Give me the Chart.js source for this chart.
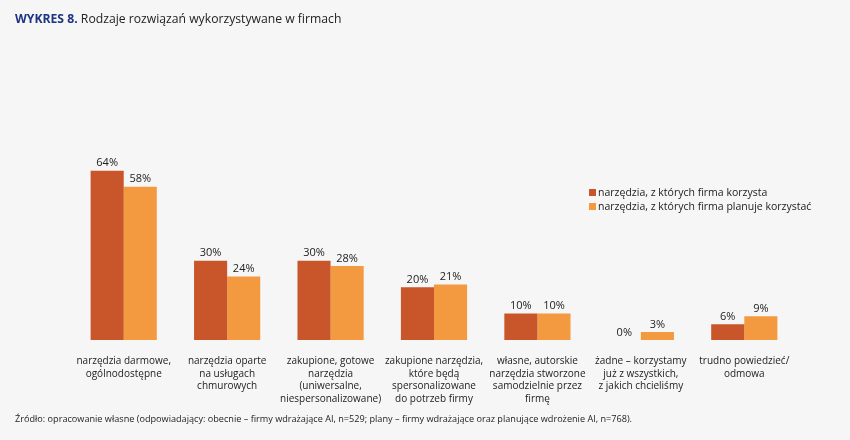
<!DOCTYPE html>
<html lang="pl">
<head>
<meta charset="utf-8">
<script src="https://cdn.jsdelivr.net/npm/chart.js@4.4.1/dist/chart.umd.min.js"></script>
<style>
  body { margin: 0; background: #f6f6f6; font-family: "Open Sans", sans-serif; }
  #wrap { position: relative; width: 850px; height: 440px; }
  #chart-box { position: absolute; left: 0; top: 0; width: 850px; height: 440px; }
  #title { position: absolute; left: 15px; top: 10px; font-size: 12.2px; color: #222; }
  #title b { color: #1d3383; }
  #source { position: absolute; left: 15px; top: 412px; font-size: 9.15px; color: #222; }
  #legend { position: absolute; left: 589px; top: 185px; font-size: 10.5px; color: #222; line-height: 14px; }
  #legend span.sw { display: inline-block; width: 7px; height: 7px; margin-right: 2px; }
</style>
</head>
<body>
<div id="wrap">
  <div id="chart-box"><canvas id="results-chart"></canvas></div>
  <div id="title"><b>WYKRES 8.</b> Rodzaje rozwiązań wykorzystywane w firmach</div>
  <div id="legend"></div>
  <div id="source">Źródło: opracowanie własne (odpowiadający: obecnie – firmy wdrażające AI, n=529; plany – firmy wdrażające oraz planujące wdrożenie AI, n=768).</div>
</div>
<script>
// Categories (multiline labels)
const categories = [
    ['narzędzia darmowe,', 'ogólnodostępne'],
    ['narzędzia oparte', 'na usługach', 'chmurowych'],
    ['zakupione, gotowe', 'narzędzia', '(uniwersalne,', 'niespersonalizowane)'],
    ['zakupione narzędzia,', 'które będą', 'spersonalizowane', 'do potrzeb firmy'],
    ['własne, autorskie', 'narzędzia stworzone', 'samodzielnie przez', 'firmę'],
    ['żadne – korzystamy', 'już z wszystkich,', 'z jakich chcieliśmy'],
    ['trudno powiedzieć/', 'odmowa']
];

// Series values (%)
const seriesNames = ['narzędzia, z których firma korzysta', 'narzędzia, z których firma planuje korzystać'];
const currentUse = [64, 30, 30, 20, 10, 0, 6];
const plannedUse = [58, 24, 28, 21, 10, 3, 9];
const seriesColors = ['#c9552a', '#f39a40'];

// Build legend from the series names
const legendEl = document.getElementById('legend');
seriesNames.forEach((name, i) => {
    const row = document.createElement('div');
    row.innerHTML = '<span class="sw" style="background:' + seriesColors[i] + '"></span>' + name;
    legendEl.appendChild(row);
});

// Value labels above bars
const valueLabels = {
    id: 'valueLabels',
    afterDatasetsDraw(chart) {
        const ctx = chart.ctx;
        ctx.save();
        ctx.font = '11px "Open Sans", sans-serif';
        ctx.fillStyle = '#222';
        ctx.textAlign = 'center';
        ctx.textBaseline = 'bottom';
        chart.data.datasets.forEach((ds, di) => {
            chart.getDatasetMeta(di).data.forEach((bar, i) => {
                ctx.fillText(ds.data[i] + '%', bar.x, bar.y - 2);
            });
        });
        ctx.restore();
    }
};

const ctx = document.getElementById('results-chart').getContext('2d');
new Chart(ctx, {
    type: 'bar',
    data: {
        labels: categories,
        datasets: [
            { label: seriesNames[0], data: currentUse, backgroundColor: seriesColors[0] },
            { label: seriesNames[1], data: plannedUse, backgroundColor: seriesColors[1] }
        ]
    },
    options: {
        responsive: true,
        maintainAspectRatio: false,
        animation: false,
        layout: { padding: { left: 72, right: 54, top: 155, bottom: 28 } },
        datasets: { bar: { categoryPercentage: 0.64, barPercentage: 1.0 } },
        plugins: {
            legend: { display: false },
            tooltip: { enabled: false }
        },
        scales: {
            x: {
                grid: { display: false },
                border: { display: false },
                ticks: {
                    autoSkip: false,
                    maxRotation: 0,
                    padding: 7,
                    color: '#222',
                    font: { family: 'Open Sans', size: 10, lineHeight: 1.25 }
                }
            },
            y: {
                display: false,
                min: 0,
                max: 70
            }
        }
    },
    plugins: [valueLabels]
});
</script>
</body>
</html>
